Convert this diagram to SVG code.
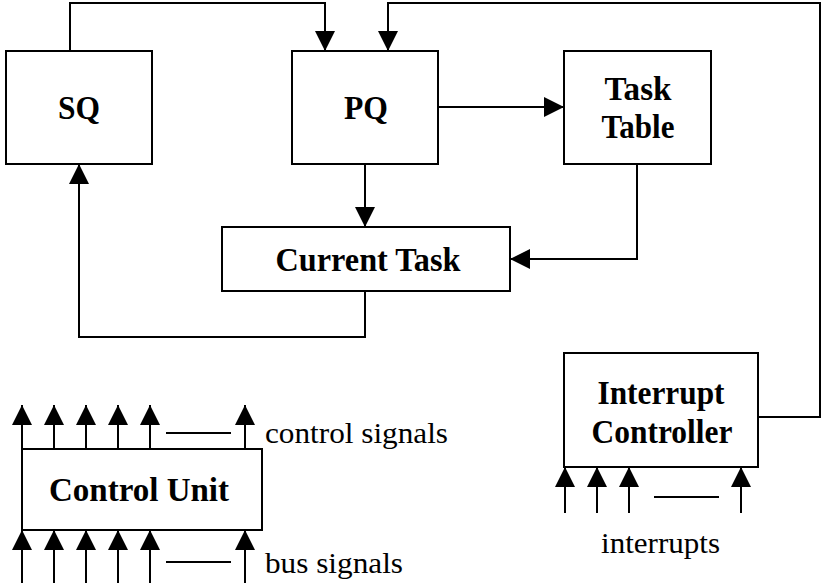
<svg xmlns="http://www.w3.org/2000/svg" width="821" height="583" viewBox="0 0 821 583">
<style>
.box{fill:#fff;stroke:#000;stroke-width:2}
.ln{fill:none;stroke:#000;stroke-width:2}
.arr{fill:none;stroke:#000;stroke-width:2;marker-end:url(#ah)}
.b{font-family:"Liberation Serif","Times New Roman",serif;font-weight:bold;font-size:33px;fill:#000;text-anchor:middle}
.r{font-family:"Liberation Serif","Times New Roman",serif;font-size:30px;fill:#000}
</style>
<defs>
<marker id="ah" markerUnits="userSpaceOnUse" markerWidth="20" markerHeight="20" refX="20" refY="10" orient="auto">
<path d="M0,0 L20,10 L0,20 z" fill="#000"/>
</marker>
</defs>
<rect width="821" height="583" fill="#fff"/>
<g id="connectors">
<path class="arr" d="M70,51 V3 H325 V51"/>
<path class="arr" d="M758,417 H820 V3 H388 V51"/>
<path class="arr" d="M438,107 H564"/>
<path class="arr" d="M365,164 V227"/>
<path class="arr" d="M637,164 V259 H510"/>
<path class="arr" d="M365,291 V337 H79 V164"/>
<g id="control-signals">
<path class="arr" d="M22,449 V405"/>
<path class="arr" d="M54,449 V405"/>
<path class="arr" d="M86,449 V405"/>
<path class="arr" d="M118,449 V405"/>
<path class="arr" d="M150,449 V405"/>
<path class="arr" d="M245,449 V405"/>
<path class="ln" d="M166,433 H231"/>
</g>
<g id="bus-signals">
<path class="arr" d="M22,583 V530"/>
<path class="arr" d="M54,583 V530"/>
<path class="arr" d="M86,583 V530"/>
<path class="arr" d="M118,583 V530"/>
<path class="arr" d="M150,583 V530"/>
<path class="arr" d="M245,583 V530"/>
<path class="ln" d="M166,562 H231"/>
</g>
<g id="interrupt-lines">
<path class="arr" d="M565,513 V467"/>
<path class="arr" d="M597,513 V467"/>
<path class="arr" d="M629,513 V467"/>
<path class="arr" d="M741,513 V467"/>
<path class="ln" d="M654,497 H719"/>
</g>
</g>
<g id="sq">
<rect class="box" x="6" y="51" width="146" height="113"/>
<text class="b" x="79" y="119" textLength="42" lengthAdjust="spacingAndGlyphs">SQ</text>
</g>
<g id="pq">
<rect class="box" x="292" y="51" width="146" height="113"/>
<text class="b" x="366" y="119" textLength="44" lengthAdjust="spacingAndGlyphs">PQ</text>
</g>
<g id="task-table">
<rect class="box" x="564" y="51" width="147" height="113"/>
<text class="b" x="638" y="100" textLength="67" lengthAdjust="spacingAndGlyphs">Task</text>
<text class="b" x="638" y="138" textLength="73" lengthAdjust="spacingAndGlyphs">Table</text>
</g>
<g id="current-task">
<rect class="box" x="222" y="227" width="288" height="64"/>
<text class="b" x="368" y="271" textLength="185" lengthAdjust="spacingAndGlyphs">Current Task</text>
</g>
<g id="interrupt-controller">
<rect class="box" x="564" y="353" width="194" height="114"/>
<text class="b" x="661" y="404" textLength="127" lengthAdjust="spacingAndGlyphs">Interrupt</text>
<text class="b" x="662" y="443" textLength="141" lengthAdjust="spacingAndGlyphs">Controller</text>
</g>
<g id="control-unit">
<rect class="box" x="22" y="449" width="240" height="81"/>
<text class="b" x="139" y="501" textLength="180" lengthAdjust="spacingAndGlyphs">Control Unit</text>
</g>
<text class="r" x="265" y="443" textLength="183" lengthAdjust="spacingAndGlyphs">control signals</text>
<text class="r" x="265" y="573" textLength="138" lengthAdjust="spacingAndGlyphs">bus signals</text>
<text class="r" x="601" y="553" textLength="119" lengthAdjust="spacingAndGlyphs">interrupts</text>
</svg>
